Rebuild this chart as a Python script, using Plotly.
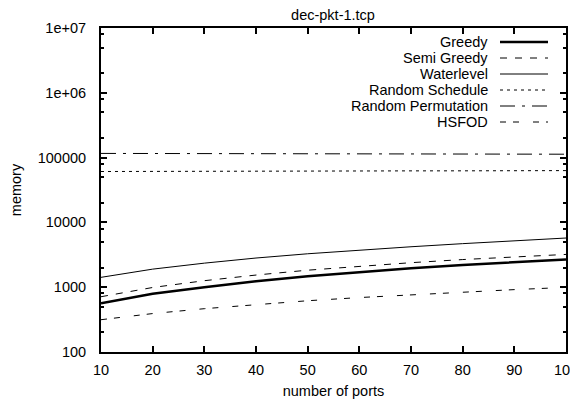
import plotly.graph_objects as go

ports = [10, 20, 30, 40, 50, 60, 70, 80, 90, 100]
greedy = [565, 790, 1000, 1240, 1470, 1710, 1960, 2200, 2440, 2685]
semi_greedy = [713, 990, 1260, 1540, 1830, 2110, 2390, 2670, 2940, 3205]
waterlevel = [1420, 1900, 2350, 2820, 3280, 3750, 4210, 4700, 5220, 5740]
random_schedule = [61000, 61500, 61200, 61800, 62100, 61900, 62400, 62500, 62900, 63000]
random_permutation = [116000, 115500, 115000, 114500, 114200, 113800, 113500, 113200, 113000, 112800]
hsfod = [315, 392, 466, 542, 618, 692, 766, 842, 918, 993]

series_names = ["Greedy", "Semi Greedy", "Waterlevel", "Random Schedule",
                "Random Permutation", "HSFOD"]
series_values = [greedy, semi_greedy, waterlevel, random_schedule,
                 random_permutation, hsfod]

y_tickvals = [100, 1000, 10000, 100000, 1000000, 10000000]
y_ticktext = ["100", "1000", "10000", "100000", "1e+06", "1e+07"]
x_tickvals = [10, 20, 30, 40, 50, 60, 70, 80, 90, 100]

styles = [
    dict(width=2.5, dash="solid"),
    dict(width=1, dash="7px,8px"),
    dict(width=1, dash="solid"),
    dict(width=1, dash="3px,4px"),
    dict(width=1, dash="15px,7px,3px,7px"),
    dict(width=1, dash="6px,7px,6px,14px"),
]

FONT = "Liberation Sans, Arial, Helvetica, sans-serif"
FS = 14.5
OFF = 8  # browser default body margin around the plot div
W, H = 578 - OFF, 406 - OFF
L, R, T, B = 101 - OFF, 12, 28 - OFF, 54
pw, ph = W - L - R, H - T - B

fig = go.Figure()
for name, vals, st in zip(series_names, series_values, styles):
    fig.add_trace(go.Scatter(x=ports, y=vals, mode="lines", name=name,
                             line=dict(color="black", width=st["width"], dash=st["dash"]),
                             showlegend=False))

# manual legend (text right-aligned, line sample on the right, gnuplot style)
def px2paper_x(px):
    return (px - OFF - L) / pw

def py2paper_y(py):
    return (H - B - (py - OFF)) / ph

for i, (name, st) in enumerate(zip(series_names, styles)):
    yy = py2paper_y(42 + 16 * i)
    fig.add_annotation(x=px2paper_x(490), y=yy, xref="paper", yref="paper",
                       text=name, showarrow=False, xanchor="right", yanchor="middle",
                       font=dict(family=FONT, size=FS, color="black"))
    fig.add_shape(type="line", xref="paper", yref="paper",
                  x0=px2paper_x(500), x1=px2paper_x(548), y0=yy, y1=yy,
                  line=dict(color="black", width=st["width"], dash=st["dash"]))

minor_vals = [m * 10 ** k for k in range(2, 7) for m in (2, 5, 8)]

fig.update_layout(
    width=W, height=H,
    margin=dict(l=L, r=R, t=T, b=B, pad=0, autoexpand=False),
    paper_bgcolor="white", plot_bgcolor="white",
    font=dict(family=FONT, size=FS, color="black"),
    title=dict(text="dec-pkt-1.tcp", x=(333 - OFF) / W, xanchor="center",
               y=1, yanchor="top", pad=dict(t=2, b=0),
               font=dict(family=FONT, size=FS)),
    xaxis=dict(range=[10, 100], tickvals=x_tickvals, ticks="inside", ticklen=6,
               tickwidth=1.5, tickcolor="black", showline=True, linecolor="black",
               linewidth=2, mirror="allticks", showgrid=False, zeroline=False,
               ticklabelstandoff=4, automargin=False, ticklabeloverflow="allow",
               title=dict(text="number of ports", standoff=8,
                          font=dict(family=FONT, size=FS))),
    yaxis=dict(type="log", range=[2, 7], tickvals=y_tickvals, ticktext=y_ticktext,
               ticks="inside", ticklen=6, tickwidth=1.5, tickcolor="black",
               showline=True, linecolor="black", linewidth=2, mirror="allticks",
               showgrid=False, zeroline=False, ticklabelstandoff=10, automargin=False,
               ticklabeloverflow="allow",
               minor=dict(tickvals=minor_vals, ticks="inside", ticklen=3,
                          tickwidth=1.5, tickcolor="black", showgrid=False),
               title=dict(text="memory", standoff=21,
                          font=dict(family=FONT, size=FS))),
)

fig.write_html("out.html")
